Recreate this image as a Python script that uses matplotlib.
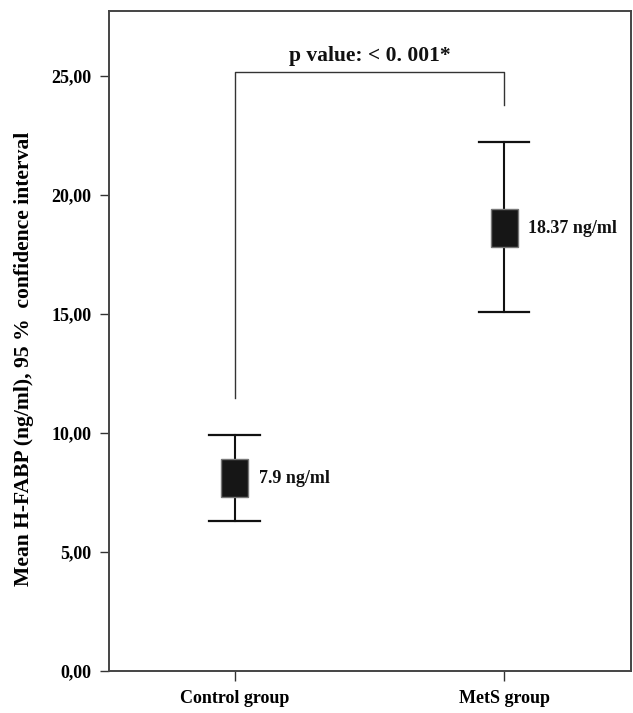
import matplotlib
matplotlib.use("Agg")
import matplotlib.pyplot as plt
from matplotlib.patches import Rectangle

groups = ["Control group", "MetS group"]
means = [7.9, 18.37]
ci_low = [6.30, 15.08]
ci_high = [9.93, 22.23]
box_low = [7.31, 17.82]
box_high = [8.90, 19.40]
labels = ["7.9 ng/ml", "18.37 ng/ml"]
yticks = [0, 5, 10, 15, 20, 25]
ytick_labels = ["0,00", "5,00", "10,00", "15,00", "20,00", "25,00"]
bracket_left_bottom = 11.45
bracket_right_bottom = 23.78
bracket_top = 25.15
p_text = "p value: < 0. 001*"

plt.rcParams['font.family'] = ['Liberation Serif', 'DejaVu Serif']
plt.rcParams['font.weight'] = 'bold'

fig = plt.figure(figsize=(6.33, 7.13), dpi=100)
ax = fig.add_axes([109/633, 1-671/713, 522/633, 660/713])

xs = [1, 2]
for x, lo, hi, blo, bhi, lab in zip(xs, ci_low, ci_high, box_low, box_high, labels):
    ax.plot([x, x], [lo, hi], color='#111111', lw=1.5, zorder=2)
    ax.plot([x-0.094, x+0.094], [lo, lo], color='#111111', lw=1.6, zorder=2)
    ax.plot([x-0.094, x+0.094], [hi, hi], color='#111111', lw=1.6, zorder=2)
    ax.add_patch(Rectangle((x-0.05, blo), 0.10, bhi-blo, facecolor='#161616',
                           edgecolor='#777777', lw=1.0, zorder=3))
    ax.text(x+0.09, (blo+bhi)/2, lab, ha='left', va='center', fontsize=13,
            fontweight='bold', color='#111111')

ax.plot([1, 1, 2, 2], [bracket_left_bottom, bracket_top, bracket_top, bracket_right_bottom],
        color='#333333', lw=1.0, zorder=1)
ax.text(1.5, bracket_top + 0.25, p_text, ha='center', va='bottom', fontsize=15.5,
        fontweight='bold', color='#111111')

ax.set_xlim(0.533, 2.471)
ax.set_ylim(0, 27.73)
ax.set_xticks(xs)
ax.set_xticklabels(groups, fontsize=13, fontweight='bold')
ax.set_yticks(yticks)
ax.set_yticklabels(ytick_labels, fontsize=13, fontweight='bold')
ax.tick_params(axis='x', length=7, width=1.0, color='#333333', pad=7)
ax.tick_params(axis='y', length=6.5, width=1.0, color='#333333', pad=6)
for s in ax.spines.values():
    s.set_color('#444444')
    s.set_linewidth(1.4)
ax.set_ylabel("Mean H-FABP (ng/ml), 95 %  confidence interval", fontsize=15.6,
              fontweight='bold', va='center')
ax.yaxis.set_label_coords((24-109)/522, (671-359)/660)

fig.savefig("out.png", dpi=100)
